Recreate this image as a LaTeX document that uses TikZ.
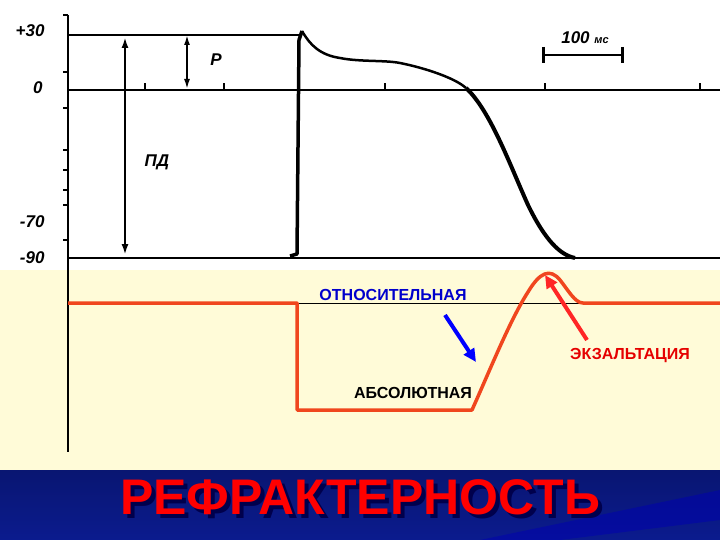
\documentclass[tikz,border=0pt]{standalone}
\usepackage{fontspec}
\setmainfont{Liberation Sans}
\usetikzlibrary{arrows.meta}
\definecolor{cream}{HTML}{FFFBD8}
\definecolor{bannerblue}{HTML}{0B1B8E}
\definecolor{redline}{HTML}{F0461E}
\tikzset{
 axlab/.style={font=\bfseries\itshape\fontsize{17}{17}\selectfont,anchor=east},
 thickax/.style={line width=2.5pt},
 lbl/.style={font=\bfseries\fontsize{16}{16}\selectfont},
 dbl/.style={line width=2.5pt,{Latex[length=11pt,width=7pt]}-{Latex[length=11pt,width=7pt]}},
}
\begin{document}
\begin{tikzpicture}[x=1pt,y=-1pt]
\useasboundingbox (0,0) rectangle (720,540);
\fill[white] (0,0) rectangle (720,270);
\fill[cream] (0,270) rectangle (720,470);
\shade[top color=bannerblue!80!black,bottom color=bannerblue] (0,470) rectangle (720,540);
\fill[blue!70!black,opacity=0.5] (480,540) -- (720,490) -- (720,520) -- (560,540) -- cycle;
% axes
\draw[thickax] (68,15) -- (68,270);
\draw[line width=1.5pt] (68,270) -- (68,452);
\foreach \y in {15,72,108,150,170,190,205,240} \draw[line width=2pt] (63,\y) -- (68,\y);
\draw[line width=1.3pt] (68,35) -- (300,35);
\draw[thickax] (68,90) -- (720,90);
\draw[thickax] (68,258) -- (720,258);
\foreach \x in {145,224,385,545,700} \draw[line width=1.5pt] (\x,90) -- (\x,83);
\node[axlab] (l30) at (48,31) {+30};
\node[axlab] (l0) at (46,88) {0};
\node[axlab] (l70) at (48,222) {-70};
\node[axlab] (l90) at (48,258) {-90};
\node[font=\bfseries\itshape\fontsize{12}{12}\selectfont,anchor=south] (mv) at (82,4) {мВ};
% double arrows
\coordinate (pdt) at (125,37); \coordinate (pdb) at (125,255);
\draw[dbl] (pdt) -- (pdb);
\coordinate (pt) at (187,35); \coordinate (pb) at (187,89);
\draw[line width=1.8pt,{Latex[length=10pt,width=6pt]}-{Latex[length=10pt,width=6pt]}] (pt) -- (pb);
\node[font=\bfseries\itshape\fontsize{17}{17}\selectfont] (P) at (216,60) {P};
\node[font=\bfseries\itshape\fontsize{17}{17}\selectfont] (PD) at (157,162) {ПД};
% action potential
\draw[line width=3.5pt,line join=round] (290,256) -- (297,254) -- (299,40) -- (302,31);
\draw[line width=2.5pt,line join=round] (302,31) .. controls (310,45) and (320,55) .. (340,58)
 .. controls (360,62) and (385,60) .. (400,63)
 .. controls (425,68) and (455,78) .. (466,88);
\draw[line width=4pt,line join=round] (466,88) .. controls (490,110) and (510,165) .. (528,205)
 .. controls (545,240) and (560,255) .. (575,258);
% scale bar
\draw[line width=2pt] (543,55) -- (622,55);
\draw[line width=3pt] (543,47) -- (543,63) (622,47) -- (622,63);
\node[font=\bfseries\itshape\fontsize{17}{17}\selectfont] (ms) at (585,38) {100 \fontsize{11}{11}\selectfont мс};
% refractoriness curve
\draw[line width=0.8pt] (297,303) -- (583,303);
\draw[redline,line width=3.5pt,line join=round] (68,303) -- (297,303) -- (297,410) -- (472,410)
 .. controls (490,370) and (510,320) .. (528,292)
 .. controls (540,272) and (550,268) .. (560,280)
 .. controls (568,290) and (575,303) .. (583,303) -- (720,303);
\node[lbl,text=blue!80!black] (rel) at (393,295) {ОТНОСИТЕЛЬНАЯ};
\node[lbl] (abs) at (413,393) {АБСОЛЮТНАЯ};
\node[lbl,text=red!90!black] (exz) at (630,356) {ЭКЗАЛЬТАЦИЯ};
\coordinate (ba) at (445,315); \coordinate (bb) at (476,362);
\draw[blue,line width=4pt,-{Triangle[length=13pt,width=12pt]}] (ba) -- (bb);
\coordinate (ra) at (587,340); \coordinate (rb) at (545,275);
\draw[red!85!white,line width=4pt,-{Triangle[length=13pt,width=12pt]}] (ra) -- (rb);
% banner title
\node[font=\bfseries\fontsize{50}{50}\selectfont,text=black!70!blue] (tsh) at (364,501) {РЕФРАКТЕРНОСТЬ};
\node[font=\bfseries\fontsize{50}{50}\selectfont,text=red] (title) at (360,497) {РЕФРАКТЕРНОСТЬ};
\end{tikzpicture}
\end{document}
